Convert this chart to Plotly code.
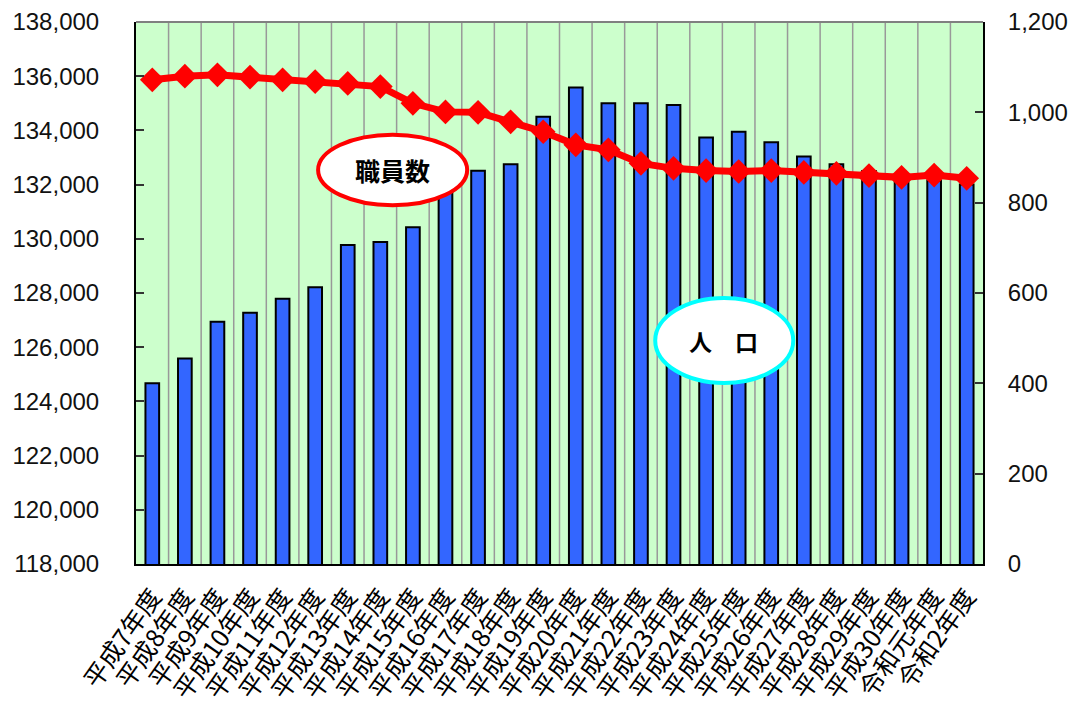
import plotly.graph_objects as go

# 年度
years = [
    "平成7年度", "平成8年度", "平成9年度", "平成10年度", "平成11年度",
    "平成12年度", "平成13年度", "平成14年度", "平成15年度", "平成16年度",
    "平成17年度", "平成18年度", "平成19年度", "平成20年度", "平成21年度",
    "平成22年度", "平成23年度", "平成24年度", "平成25年度", "平成26年度",
    "平成27年度", "平成28年度", "平成29年度", "平成30年度", "令和元年度",
    "令和2年度",
]

# 人口（左軸）
population = [
    124670, 125580, 126940, 127270, 127790,
    128210, 129770, 129880, 130430, 132000,
    132510, 132750, 134500, 135580, 135000,
    135000, 134940, 133740, 133950, 133560,
    133040, 132750, 132500, 132300, 132150,
    132000,
]

# 職員数（右軸）
staff = [
    1072, 1080, 1083, 1078, 1072,
    1068, 1064, 1057, 1020, 1001,
    1000, 979, 957, 928, 917,
    887, 876, 871, 869, 871,
    867, 865, 860, 856, 861,
    854,
]

left_ticks = list(range(118000, 138001, 2000))
right_ticks = list(range(0, 1201, 200))

num_font = dict(family="Liberation Sans, Arial, sans-serif", size=24, color="#111111")
jp_font = "Noto Sans CJK JP, sans-serif"

fig = go.Figure()

fig.add_trace(go.Bar(
    x=years, y=population, name="人口",
    marker=dict(color="#3366FF", line=dict(color="#000000", width=2)),
    width=0.42,
))

fig.add_trace(go.Scatter(
    x=years, y=staff, name="職員数", yaxis="y2", mode="lines+markers",
    line=dict(color="#FF0000", width=7),
    marker=dict(symbol="diamond", size=19, color="#FF0000"),
))

# category separators
shapes = []
for i in range(len(years) - 1):
    shapes.append(dict(
        type="line", xref="x", yref="paper", x0=i + 0.5, x1=i + 0.5, y0=0, y1=1,
        line=dict(color="#999999", width=1.5), layer="below",
    ))
# grey top border
shapes.append(dict(type="line", xref="paper", yref="paper", x0=0, x1=1, y0=1, y1=1,
                   line=dict(color="#808080", width=2), layer="above"))
# callout ellipses
shapes.append(dict(type="circle", xref="paper", yref="paper",
                   x0=0.215, x1=0.391, y0=0.662, y1=0.792,
                   fillcolor="#FFFFFF", line=dict(color="#FF0000", width=4), layer="above"))
shapes.append(dict(type="circle", xref="paper", yref="paper",
                   x0=0.613, x1=0.776, y0=0.334, y1=0.491,
                   fillcolor="#FFFFFF", line=dict(color="#00FFFF", width=4), layer="above"))

annotations = [
    dict(text="<b>職員数</b>", xref="paper", yref="paper", x=0.303, y=0.727,
         xanchor="center", yanchor="middle",
         showarrow=False, font=dict(family=jp_font, size=25, color="#000000")),
    dict(text="<b>人　口</b>", xref="paper", yref="paper", x=0.694, y=0.411,
         xanchor="center", yanchor="middle",
         showarrow=False, font=dict(family=jp_font, size=23, color="#000000")),
]

fig.update_layout(
    width=1074, height=715,
    margin=dict(l=136, r=91, t=22, b=151, autoexpand=False),
    paper_bgcolor="#FFFFFF",
    plot_bgcolor="#CCFFCC",
    showlegend=False,
    shapes=shapes,
    annotations=annotations,
    xaxis=dict(
        type="category", range=[-0.5, len(years) - 0.5],
        showgrid=False, showline=True, linecolor="#000000", linewidth=2,
        ticks="", tickangle=-55, automargin=False,
        tickfont=dict(family=jp_font, size=25, color="#000000"),
        ticklabelstandoff=6,
    ),
    yaxis=dict(
        range=[118000, 138000], tickvals=left_ticks, tickformat=",",
        showgrid=False, zeroline=False, showline=True, linecolor="#000000", linewidth=2,
        ticks="inside", ticklen=8, tickwidth=2, tickcolor="#333333",
        tickfont=num_font, automargin=False, ticklabelstandoff=30,
    ),
    yaxis2=dict(
        range=[0, 1200], tickvals=right_ticks, tickformat=",",
        overlaying="y", side="right",
        showgrid=False, zeroline=False, showline=True, linecolor="#000000", linewidth=2,
        ticks="inside", ticklen=8, tickwidth=2, tickcolor="#333333",
        tickfont=num_font, automargin=False, ticklabelstandoff=18,
    ),
)

fig.write_html("out.html")
